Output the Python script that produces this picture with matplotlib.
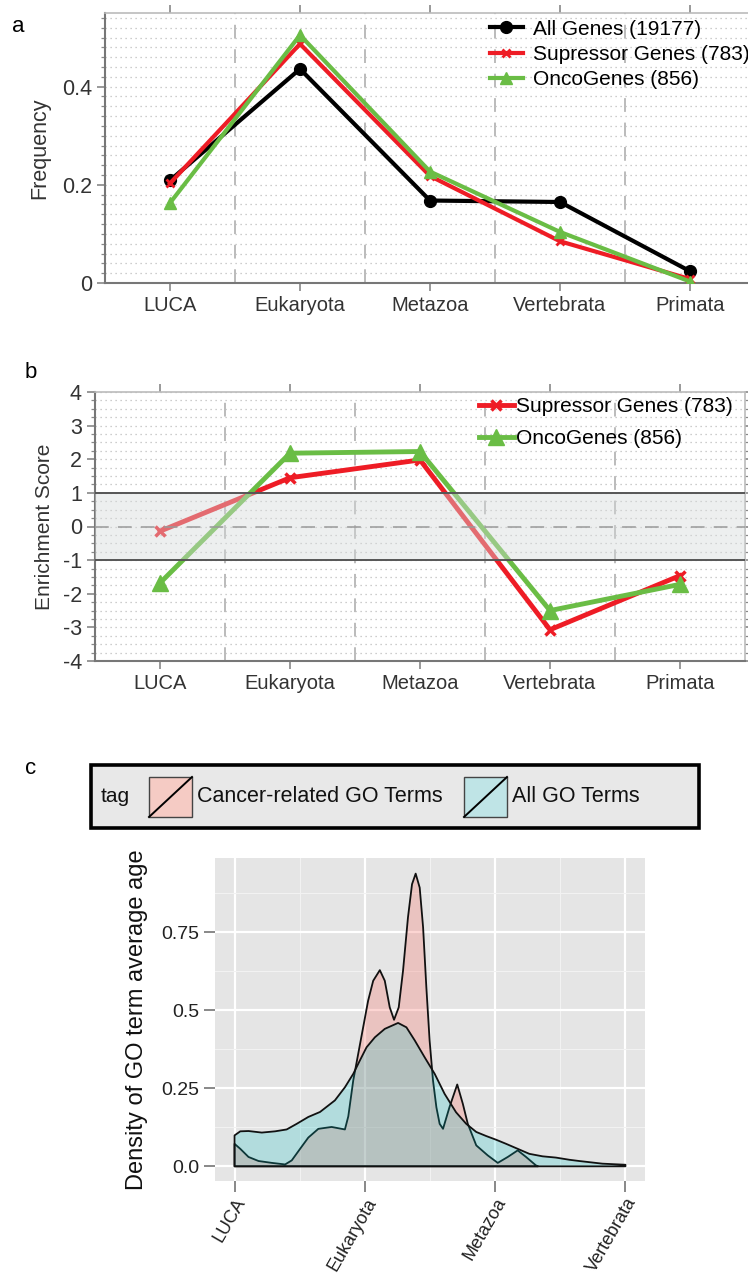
import numpy as np
import matplotlib
matplotlib.use('Agg')
import matplotlib.pyplot as plt
from matplotlib.patches import Rectangle
from matplotlib.lines import Line2D
from matplotlib.colors import to_rgba
from matplotlib.ticker import MultipleLocator

plt.rcParams['font.family'] = ['Liberation Sans', 'DejaVu Sans']
plt.rcParams['axes.unicode_minus'] = False

# ---- data ----
stages = ['LUCA', 'Eukaryota', 'Metazoa', 'Vertebrata', 'Primata']

# panel a: frequency
freq_all = [0.209, 0.436, 0.168, 0.165, 0.024]
freq_sup = [0.203, 0.487, 0.218, 0.085, 0.008]
freq_onc = [0.163, 0.505, 0.227, 0.104, 0.003]

# panel b: enrichment score
enr_sup = [-0.14, 1.45, 1.98, -3.07, -1.46]
enr_onc = [-1.68, 2.18, 2.23, -2.50, -1.72]

# panel c: density of GO term average age
c_ticks = ['LUCA', 'Eukaryota', 'Metazoa', 'Vertebrata']
cancer_x = [0.0, 0.0, 0.044, 0.107, 0.184, 0.286, 0.388, 0.439, 0.503, 0.566,
            0.643, 0.745, 0.847, 0.873, 0.911, 0.949, 0.987, 1.025, 1.064, 1.115,
            1.153, 1.191, 1.224, 1.260, 1.293, 1.331, 1.362, 1.390, 1.421, 1.447,
            1.472, 1.497, 1.523, 1.549, 1.574, 1.600, 1.65, 1.709, 1.752, 1.79,
            1.855, 1.943, 2.02, 2.097, 2.173, 2.237, 2.313, 2.33]
cancer_y = [0.0, 0.072, 0.056, 0.030, 0.017, 0.011, 0.006, 0.019, 0.056, 0.092,
            0.120, 0.126, 0.118, 0.160, 0.275, 0.360, 0.445, 0.530, 0.594, 0.628,
            0.594, 0.509, 0.469, 0.509, 0.626, 0.797, 0.903, 0.937, 0.892, 0.765,
            0.573, 0.403, 0.275, 0.189, 0.136, 0.120, 0.19, 0.262, 0.20, 0.136,
            0.067, 0.035, 0.011, 0.03, 0.051, 0.030, 0.003, 0.0]
all_x = [0.0, 0.0, 0.044, 0.107, 0.209, 0.311, 0.400, 0.477, 0.566, 0.656,
         0.770, 0.847, 0.911, 0.962, 1.013, 1.077, 1.153, 1.255, 1.319, 1.383,
         1.459, 1.536, 1.612, 1.70, 1.778, 1.855, 1.931, 2.008, 2.084, 2.173,
         2.262, 2.364, 2.466, 2.569, 2.645, 2.823, 3.0, 3.0]
all_y = [0.0, 0.099, 0.112, 0.113, 0.108, 0.112, 0.118, 0.136, 0.158, 0.174,
         0.211, 0.253, 0.296, 0.339, 0.381, 0.413, 0.440, 0.459, 0.445, 0.403,
         0.349, 0.296, 0.232, 0.173, 0.136, 0.110, 0.097, 0.085, 0.072, 0.056,
         0.040, 0.032, 0.028, 0.021, 0.017, 0.0085, 0.005, 0.0]

RED = '#EE1C25'
GREEN = '#6ABD45'
TXT = '#333333'

W, H = 748, 1279
fig = plt.figure(figsize=(W / 100, H / 100), dpi=100)


def box(x0, y0, x1, y1):
    # pixel box (top-left origin) -> figure fraction
    return [x0 / W, 1 - y1 / H, (x1 - x0) / W, (y1 - y0) / H]


def style_line_axes(ax, ymin, ymax, minor):
    xpos = np.arange(len(stages))
    ax.set_xlim(-0.5, 4.5)
    ax.set_ylim(ymin, ymax)
    ax.set_xticks(xpos)
    ax.set_xticklabels(stages)
    ax.yaxis.set_minor_locator(MultipleLocator(minor))
    ax.grid(which='both', axis='y', color='#BDBDBD', lw=0.9, ls=(0, (1, 3)), zorder=0)
    for b in xpos[:-1] + 0.5:
        ax.axvline(b, color='#A8A8A8', lw=1.1, ls=(0, (9, 7)), zorder=0.5)
    for s in ['left', 'bottom']:
        ax.spines[s].set_color('#777777')
        ax.spines[s].set_linewidth(1.5)
    for s in ['top', 'right']:
        ax.spines[s].set_color('#BBBBBB')
        ax.spines[s].set_linewidth(1.2)
    ax.tick_params(which='major', length=6, width=1.2, color='#888888',
                   labelsize=14.5, labelcolor=TXT, top=True, right=True)
    ax.tick_params(which='minor', length=3, width=0.9, color='#888888', right=True)
    ax.tick_params(axis='x', which='minor', bottom=False, top=False)


# ---- panel a ----
ax_a = fig.add_axes(box(105, 13, 755, 283))
style_line_axes(ax_a, 0, 0.55, 0.02)
ax_a.set_yticks([0, 0.2, 0.4])
ax_a.set_yticklabels(['0', '0.2', '0.4'])
ax_a.tick_params(axis='y', labelsize=15.5)
x = np.arange(len(stages))
ax_a.plot(x, freq_all, color='black', lw=3, marker='o', ms=8.5, zorder=3,
          label='All Genes (19177)')
ax_a.plot(x, freq_sup, color=RED, lw=3, marker='x', ms=6, mew=2, zorder=4,
          label='Supressor Genes (783)')
ax_a.plot(x, freq_onc, color=GREEN, lw=3, marker='^', ms=9, zorder=5,
          label='OncoGenes (856)')
ax_a.set_ylabel('Frequency', fontsize=15.5, color=TXT, labelpad=8)
ax_a.legend(loc='upper left', bbox_to_anchor=(0.592, 0.975), frameon=False,
            fontsize=15, handlelength=1.6, handletextpad=0.45,
            labelspacing=0.3, borderpad=0, borderaxespad=0)

# ---- panel b ----
ax_b = fig.add_axes(box(95, 392, 745, 661))
style_line_axes(ax_b, -4, 4, 0.25)
ax_b.set_yticks(range(-4, 5))
ax_b.tick_params(axis='y', labelsize=15.5)
ax_b.plot(x, enr_sup, color=RED, lw=3.5, marker='x', ms=7, mew=2.5, zorder=3,
          label='Supressor Genes (783)')
ax_b.plot(x, enr_onc, color=GREEN, lw=3.5, marker='^', ms=11, zorder=4,
          label='OncoGenes (856)')
ax_b.axhspan(-1, 1, color='#D6DADA', alpha=0.42, lw=0, zorder=6)
ax_b.axhline(1, color='#555555', lw=1.4, zorder=7)
ax_b.axhline(-1, color='#555555', lw=1.4, zorder=7)
ax_b.axhline(0, color='#999999', lw=1.1, ls=(0, (9, 6)), zorder=7)
ax_b.set_ylabel('Enrichment Score', fontsize=15, color=TXT, labelpad=6)
ax_b.legend(loc='upper left', bbox_to_anchor=(0.59, 0.98), frameon=False,
            fontsize=15, handlelength=1.7, handletextpad=0.1,
            labelspacing=0.6, borderpad=0, borderaxespad=0)

# ---- panel c ----
ax_c = fig.add_axes(box(215, 858, 645, 1181))
ax_c.set_facecolor('#E5E5E5')
for s in ax_c.spines.values():
    s.set_visible(False)
ax_c.set_xlim(-0.15, 3.15)
ax_c.set_ylim(-0.047, 0.987)
ax_c.set_xticks(range(len(c_ticks)))
ax_c.set_xticks([0.5, 1.5, 2.5], minor=True)
ax_c.set_yticks([0, 0.25, 0.5, 0.75])
ax_c.set_yticks([0.125, 0.375, 0.625, 0.875], minor=True)
ax_c.set_yticklabels(['0.0', '0.25', '0.5', '0.75'])
ax_c.set_xticklabels(c_ticks, rotation=60, ha='right', rotation_mode='anchor')
ax_c.grid(which='major', color='white', lw=1.6)
ax_c.grid(which='minor', color='#F2F2F2', lw=0.8)
ax_c.set_axisbelow(True)
ax_c.tick_params(which='major', length=8, width=1.3, color='#7F7F7F',
                 labelsize=14, labelcolor='#222222', pad=3)
ax_c.tick_params(axis='x', which='major', labelsize=13, pad=2)
ax_c.tick_params(which='minor', length=0)
ax_c.fill(cancer_x, cancer_y, facecolor=to_rgba('#F8766D', 0.3),
          edgecolor='#111111', lw=1.3, joinstyle='round', zorder=2)
ax_c.fill(all_x, all_y, facecolor=to_rgba('#00BFC4', 0.22),
          edgecolor='#111111', lw=1.3, joinstyle='round', zorder=3)
ax_c.set_ylabel('Density of GO term average age', fontsize=17, color='#111111',
                labelpad=10)

# legend for panel c
ax_l = fig.add_axes(box(91, 765, 699, 828))
ax_l.set_xlim(0, 608)
ax_l.set_ylim(0, 63)
ax_l.axis('off')
ax_l.add_patch(Rectangle((0, 0), 608, 63, facecolor='#E8E8E8', edgecolor='black',
                         lw=2.6, clip_on=False))
ax_l.text(10, 31, 'tag', fontsize=15, va='center', ha='left', color='#111111')
legend_items = [('Cancer-related GO Terms', '#F5CBC4', 58),
                ('All GO Terms', '#BFE4E6', 373)]
for lab, col, kx in legend_items:
    ax_l.add_patch(Rectangle((kx, 11), 43, 40, facecolor=col, edgecolor='#444444', lw=1))
    ax_l.add_line(Line2D([kx, kx + 43], [11, 51], color='black', lw=1.4))
    ax_l.text(kx + 48, 31, lab, fontsize=15.5, va='center', ha='left', color='#111111')

# panel letters
fig.text(18 / W, 1 - 27 / H, 'a', fontsize=16, va='center', ha='center')
fig.text(31 / W, 1 - 373 / H, 'b', fontsize=16, va='center', ha='center')
fig.text(31 / W, 1 - 769 / H, 'c', fontsize=16, va='center', ha='center')

fig.savefig('out.png', dpi=100)
